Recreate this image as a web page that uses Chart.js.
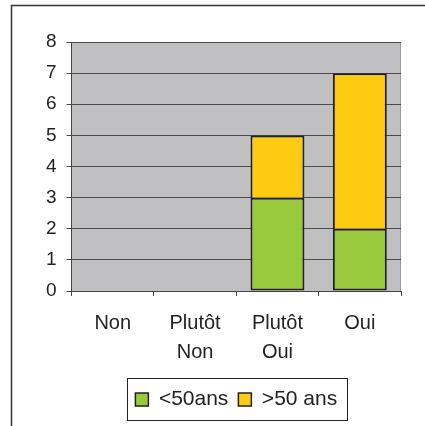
<!DOCTYPE html>
<html>
<head>
<meta charset="utf-8">
<script src="https://cdn.jsdelivr.net/npm/chart.js@4/dist/chart.umd.min.js"></script>
<style>
  html, body { margin: 0; padding: 0; background: #fff; }
  #wrap { width: 425px; height: 426px; }
</style>
</head>
<body>
<div id="wrap"><canvas id="barChart" width="425" height="426"></canvas></div>
<script>
const categories = [['Non'], ['Plutôt', 'Non'], ['Plutôt', 'Oui'], ['Oui']];
const under50 = [0, 0, 3, 2];
const over50 = [0, 0, 2, 5];
const seriesNames = ['<50ans', '>50 ans'];

const FONT = '"Liberation Sans", Arial, sans-serif';

// grey plot area, outer frame and a box round the legend
const frame = {
  id: 'frame',
  beforeDraw(chart) {
    const ctx = chart.ctx;
    const a = chart.chartArea;
    ctx.save();
    ctx.fillStyle = '#fff';
    ctx.fillRect(0, 0, chart.width, chart.height);
    ctx.fillStyle = '#c0c0c2';
    ctx.fillRect(a.left, a.top, a.right - a.left, a.bottom - a.top);
    ctx.strokeStyle = '#9a9a9a';
    ctx.lineWidth = 1;
    ctx.beginPath();
    ctx.moveTo(Math.round(a.right) - 0.5, a.top);
    ctx.lineTo(Math.round(a.right) - 0.5, a.bottom);
    ctx.stroke();
    ctx.restore();
  },
  afterDraw(chart) {
    const ctx = chart.ctx;
    ctx.save();
    ctx.strokeStyle = '#333';
    ctx.lineWidth = 1.5;
    ctx.strokeRect(11.5, 5.5, chart.width + 20, chart.height + 20);
    const boxes = chart.legend.legendHitBoxes;
    if (boxes && boxes.length) {
      const first = boxes[0], last = boxes[boxes.length - 1];
      const mid = first.top + first.height / 2;
      const left = Math.round(first.left) - 7.5;
      const right = Math.round(last.left + last.width) + 10.5;
      ctx.lineWidth = 1;
      ctx.strokeStyle = '#222';
      ctx.strokeRect(left, Math.round(mid) - 21.5, right - left, 42);
    }
    ctx.restore();
  }
};

new Chart(document.getElementById('barChart'), {
  type: 'bar',
  data: {
    labels: categories,
    datasets: [
      {
        label: seriesNames[0],
        data: under50,
        backgroundColor: '#99c93c',
        borderColor: '#222',
        borderWidth: ctx => ctx.raw ? 2 : 0,
        borderSkipped: false
      },
      {
        label: seriesNames[1],
        data: over50,
        backgroundColor: '#fccb12',
        borderColor: '#222',
        borderWidth: ctx => ctx.raw ? 2 : 0,
        borderSkipped: 'start'
      }
    ]
  },
  options: {
    responsive: false,
    animation: false,
    devicePixelRatio: 1,
    barPercentage: 0.655,
    categoryPercentage: 1,
    layout: { padding: { left: 36, top: 42, right: 24, bottom: 6 } },
    scales: {
      x: {
        stacked: true,
        offset: true,
        grid: { offset: true, drawOnChartArea: false, drawTicks: true, tickLength: 5, color: '#444' },
        border: { color: '#444', width: 1 },
        ticks: { color: '#222', font: { family: FONT, size: 20, lineHeight: 1.45 }, padding: 13, maxRotation: 0 },
        afterFit: scale => { scale.height -= 1; }
      },
      y: {
        stacked: true,
        min: 0,
        max: 8,
        ticks: { stepSize: 1, color: '#222', font: { family: FONT, size: 19 }, padding: 10 },
        grid: { color: '#4a4a4a', lineWidth: 1, tickLength: 5 },
        border: { color: '#444', width: 1 }
      }
    },
    plugins: {
      legend: {
        position: 'bottom',
        fullSize: false,
        labels: {
          boxWidth: 13,
          boxHeight: 13,
          color: '#222',
          font: { family: FONT, size: 21 },
          padding: 10,
          generateLabels(chart) {
            return Chart.defaults.plugins.legend.labels.generateLabels(chart).map(item => {
              item.lineWidth = 1.5;
              item.strokeStyle = '#222';
              return item;
            });
          }
        }
      },
      tooltip: { enabled: false }
    }
  },
  plugins: [frame]
});
</script>
</body>
</html>
